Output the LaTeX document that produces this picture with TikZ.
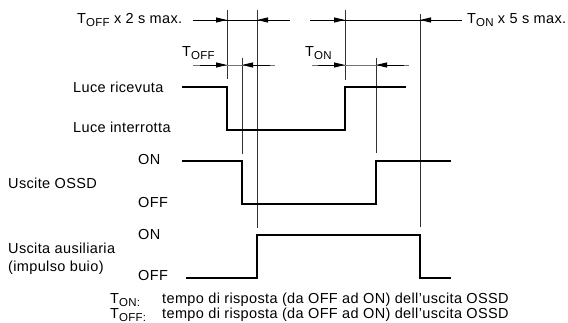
\documentclass[tikz,border=0pt]{standalone}
\usepackage{fontspec}
\setmainfont{Liberation Sans}[LetterSpace=2.5]
\usetikzlibrary{positioning, arrows.meta}
\definecolor{guidegray}{RGB}{50,50,50}
\definecolor{rowgray}{RGB}{115,115,115}
\newcommand{\lowsub}[1]{\raisebox{-0.4ex}{\fontsize{11.5}{12}\selectfont #1}}

\begin{document}
\begin{tikzpicture}[x=1pt, y=-1pt,
  % y runs downwards so numbers match the sheet
  sig/.style={line width=1.6pt, black},
  guide/.style={line width=0.9pt, draw=guidegray},
  dimrow/.style={line width=0.9pt, draw=#1},
  dimrow/.default=black,
  arr/.style={-{Triangle[length=11pt,width=5pt]}, line width=0.9pt, draw=black},
  lbl/.style={font=\fontsize{14.5}{18}\selectfont, inner sep=0pt, anchor=west, align=left}
]
\useasboundingbox (0,0) rectangle (568,323);

% Labels on the left
\node[lbl] (ricevuta)  at (73,87)  {Luce ricevuta};
\node[lbl] (interrotta) at (73,127) {Luce interrotta};
\node[lbl] (ossdon)    at (138,160) {ON};
\node[lbl] (ossd)      at (8,183)   {Uscite OSSD};
\node[lbl] (ossdoff)   at (138,203) {OFF};
\node[lbl] (auxon)     at (138,235) {ON};
\node[lbl] (aux)       at (8,259)   {Uscita ausiliaria\\(impulso buio)};
\node[lbl] (auxoff)    at (138,276) {OFF};

% Time limits
\node[lbl] (maxoff) at (77,20)  {T\lowsub{OFF} x 2 s max.};
\node[lbl] (maxon)  at (467,20) {T\lowsub{ON} x 5 s max.};
\node[lbl] (toff)   at (182,53) {T\lowsub{OFF}};
\node[lbl] (ton)    at (305,53) {T\lowsub{ON}};

% Legend
\node[lbl] (keyon)   at (110,300) {T\lowsub{ON:}};
\node[lbl] (keyoff)  at (110,315) {T\lowsub{OFF:}};
\node[lbl] (descon)  at (162,300) {tempo di risposta (da OFF ad ON) dell'uscita OSSD};
\node[lbl] (descoff) at (162,315) {tempo di risposta (da OFF ad ON) dell'uscita OSSD};

% Guide lines
\draw[guide] (227,10) -- (227,79);
\draw[guide] (242,58) -- (242,154);
\draw[guide] (257,10) -- (257,228);
\draw[guide] (345,10) -- (345,80);
\draw[guide] (376,58) -- (376,153);
\draw[guide] (420,14) -- (420,227);

% Dimension rows
\draw[dimrow] (193,20) -- (290,20);
\draw[dimrow] (310,20) -- (462,20);
\draw[arr] (200,20) -- (227,20);
\draw[arr] (285,20) -- (257,20);
\draw[arr] (315,20) -- (345,20);
\draw[arr] (455,20) -- (420,20);

\draw[dimrow=rowgray] (193,65) -- (275,65);
\draw[dimrow=rowgray] (312,65) -- (409,65);
\draw[arr] (200,65) -- (227,65);
\draw[arr] (270,65) -- (242,65);
\draw[arr] (318,65) -- (345,65);
\draw[arr] (404,65) -- (376,65);

% Signals
\draw[sig] (182,87)  -| (227,130) -| (345,87)  -- (406,87);
\draw[sig] (182,161) -| (242,204) -| (376,161) -- (451,161);
\draw[sig] (186,278) -| (257,235) -| (420,278) -- (451,278);

\end{tikzpicture}
\end{document}
